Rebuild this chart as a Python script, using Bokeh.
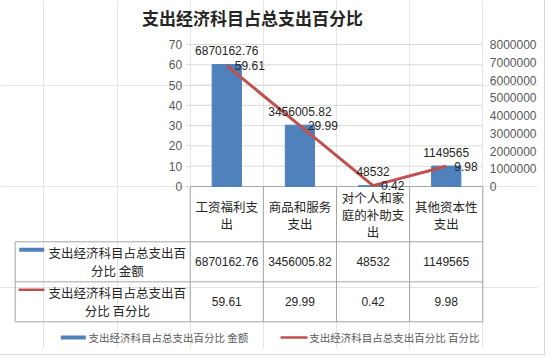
from bokeh.plotting import figure
from bokeh.models import (Range1d, LinearAxis, FixedTicker, NumeralTickFormatter,
                          ColumnDataSource)
from bokeh.core.properties import value
from bokeh.embed import file_html
from bokeh.resources import INLINE

# ---------------- data ----------------
title_text = "支出经济科目占总支出百分比"
categories = ["工资福利支出", "商品和服务支出", "对个人和家庭的补助支出", "其他资本性支出"]
amounts = [6870162.76, 3456005.82, 48532, 1149565]
percents = [59.61, 29.99, 0.42, 9.98]
series_amount = "支出经济科目占总支出百分比 金额"
series_percent = "支出经济科目占总支出百分比 百分比"
pct_ticks = [0, 10, 20, 30, 40, 50, 60, 70]
amt_ticks = [0, 1000000, 2000000, 3000000, 4000000, 5000000, 6000000, 7000000, 8000000]


def fmt(v):
    return f"{v:.2f}".rstrip("0").rstrip(".")


def wrap(s, n):
    return [s[i:i + n] for i in range(0, len(s), n)]


# ---------------- style / layout constants ----------------
W, H = 538, 348
BLUE, RED = "#4f81bd", "#c0504d"
GRID, TBL = "#d9d9d9", "#a6a6a6"
TXT, AX = "#262626", "#595959"
CJK, NUM = "Noto Sans CJK SC", "Liberation Sans"

N = len(categories)
PCT_MAX, AMT_MAX = pct_ticks[-1], amt_ticks[-1]
ZERO_Y, TOP_Y = 186, 44            # px (from top) of value 0 and of the axis top
PX_PER_PCT = (ZERO_Y - TOP_Y) / PCT_MAX
COL0, COLW = 189.7, 73.15          # px of first column edge, column width

pct_lo = -(H - ZERO_Y) / PX_PER_PCT
pct_hi = PCT_MAX + TOP_Y / PX_PER_PCT

p = figure(width=W, height=H,
           x_range=Range1d(-COL0 / COLW, (W - COL0) / COLW),
           y_range=Range1d(pct_lo, pct_hi),
           x_axis_location=None, y_axis_location=None, toolbar_location=None,
           output_backend="svg", min_border=0, outline_line_color=None)
p.extra_y_ranges = {"amt": Range1d(pct_lo * AMT_MAX / PCT_MAX, pct_hi * AMT_MAX / PCT_MAX),
                    "px": Range1d(H, 0)}
p.extra_x_ranges = {"px": Range1d(0, W)}
p.styles = {"outline": "1px solid #d9d9d9", "outline-offset": "6px"}

xpos = [i + 0.5 for i in range(N)]     # category slots
src = ColumnDataSource(dict(
    x=xpos, amt=amounts, pct=percents,
    amt_lbl=[fmt(v) for v in amounts], pct_lbl=[fmt(v) for v in percents],
))

# ---------------- axes ----------------
la = LinearAxis(ticker=FixedTicker(ticks=pct_ticks), fixed_location=0)
la.axis_line_color = None
la.major_tick_line_color = GRID
la.major_tick_out = 4
la.major_tick_in = 0
la.minor_tick_line_color = None
la.major_label_standoff = 4
la.major_label_text_font = NUM
la.major_label_text_font_size = "12px"
la.major_label_text_color = AX
p.add_layout(la, "left")

ra = LinearAxis(y_range_name="amt", ticker=FixedTicker(ticks=amt_ticks),
                formatter=NumeralTickFormatter(format="0"), fixed_location=N)
ra.axis_line_color = None
ra.major_tick_line_color = None
ra.major_tick_out = 0
ra.major_tick_in = 0
ra.minor_tick_line_color = None
ra.major_label_standoff = 7
ra.major_label_text_font = NUM
ra.major_label_text_font_size = "12px"
ra.major_label_text_color = AX
p.add_layout(ra, "right")

# horizontal gridlines at the value ticks
grid_y = pct_ticks[1:]
p.segment(x0=[0] * len(grid_y), x1=[N] * len(grid_y), y0=grid_y, y1=grid_y,
          line_color=GRID, line_width=1)

# ---------------- title ----------------
p.text(x=[252], y=[17], text=[title_text], x_range_name="px", y_range_name="px",
       text_align="center", text_baseline="middle", text_font=value(CJK),
       text_font_size="17px", text_font_style="bold", text_color=TXT)

# ---------------- data table ----------------
HDR_BOT, ROW_H = 241.3, 40
LEFT_PX = 14.7
rows = [series_amount, series_percent]
row_vals = [amounts, percents]
h_y = [HDR_BOT + ROW_H * i for i in range(len(rows) + 1)]

# table top (category axis) line + column separators
p.segment(x0=[0], x1=[N], y0=[ZERO_Y], y1=[ZERO_Y], y_range_name="px",
          line_color=TBL, line_width=1)
cols = list(range(N + 1))
p.segment(x0=cols, x1=cols, y0=[ZERO_Y] * len(cols), y1=[h_y[-1]] * len(cols),
          y_range_name="px", line_color=TBL, line_width=1)
left_x = (LEFT_PX - COL0) / COLW
p.segment(x0=[left_x] * len(h_y), x1=[N] * len(h_y), y0=h_y, y1=h_y,
          y_range_name="px", line_color=TBL, line_width=1)
p.segment(x0=[left_x], x1=[left_x], y0=[h_y[0]], y1=[h_y[-1]],
          y_range_name="px", line_color=TBL, line_width=1)

# category labels (header row)
hx, hy, ht = [], [], []
for xc, c in zip(xpos, categories):
    lines = wrap(c, 5)
    n = len(lines)
    for k, ln in enumerate(lines):
        hx.append(xc)
        hy.append(ZERO_Y + 28.3 + (k - (n - 1) / 2) * 17)
        ht.append(ln)
p.text(x=hx, y=hy, text=ht, y_range_name="px", text_align="center",
       text_baseline="middle", text_font=value(CJK), text_font_size="12.5px",
       text_color=TXT)

for i, (name, vals) in enumerate(zip(rows, row_vals)):
    cy = HDR_BOT + ROW_H * (i + 0.5)
    lines = wrap(name, 11)
    p.text(x=[116.8] * len(lines), y=[cy - 9 + 18 * k for k in range(len(lines))],
           text=lines, x_range_name="px", y_range_name="px", text_align="center",
           text_baseline="middle", text_font=value(CJK), text_font_size="12.5px",
           text_color=TXT)
    p.text(x=xpos, y=[cy] * N, text=[fmt(v) for v in vals], y_range_name="px",
           text_align="center", text_baseline="middle", text_font=value(NUM),
           text_font_size="12px", text_color=TXT)
    ky = cy - 12
    if i == 0:
        p.rect(x=[31.2], y=[ky], width=25, height=4, x_range_name="px",
               y_range_name="px", fill_color=BLUE, line_color=None)
    else:
        p.segment(x0=[18], x1=[44], y0=[ky], y1=[ky], x_range_name="px",
                  y_range_name="px", line_color=RED, line_width=2.5)

# ---------------- bars, line, data labels ----------------
p.vbar(x="x", top="amt", width=0.4, y_range_name="amt", fill_color=BLUE,
       line_color=BLUE, source=src)
p.line(x="x", y="pct", line_color=RED, line_width=3, source=src)
p.text(x="x", y="amt", text="amt_lbl", y_range_name="amt", y_offset=-14,
       text_align="center", text_baseline="middle", text_font=value(NUM),
       text_font_size="12px", text_color=TXT, source=src)
p.text(x="x", y="pct", text="pct_lbl", x_offset=8, text_align="left",
       text_baseline="middle", text_font=value(NUM), text_font_size="12px",
       text_color=TXT, source=src)

# ---------------- legend ----------------
LEG_Y = 337
p.rect(x=[72.8], y=[LEG_Y], width=25, height=4, x_range_name="px", y_range_name="px",
       fill_color=BLUE, line_color=None)
p.text(x=[88], y=[LEG_Y], text=[series_amount], x_range_name="px", y_range_name="px",
       text_align="left", text_baseline="middle", text_font=value(CJK),
       text_font_size="10.5px", text_color=AX)
p.segment(x0=[280], x1=[307], y0=[LEG_Y], y1=[LEG_Y], x_range_name="px",
          y_range_name="px", line_color=RED, line_width=2.5)
p.text(x=[308.7], y=[LEG_Y], text=[series_percent], x_range_name="px",
       y_range_name="px", text_align="left", text_baseline="middle",
       text_font=value(CJK), text_font_size="10.5px", text_color=AX)

open("out.html", "w").write(file_html(p, INLINE))
